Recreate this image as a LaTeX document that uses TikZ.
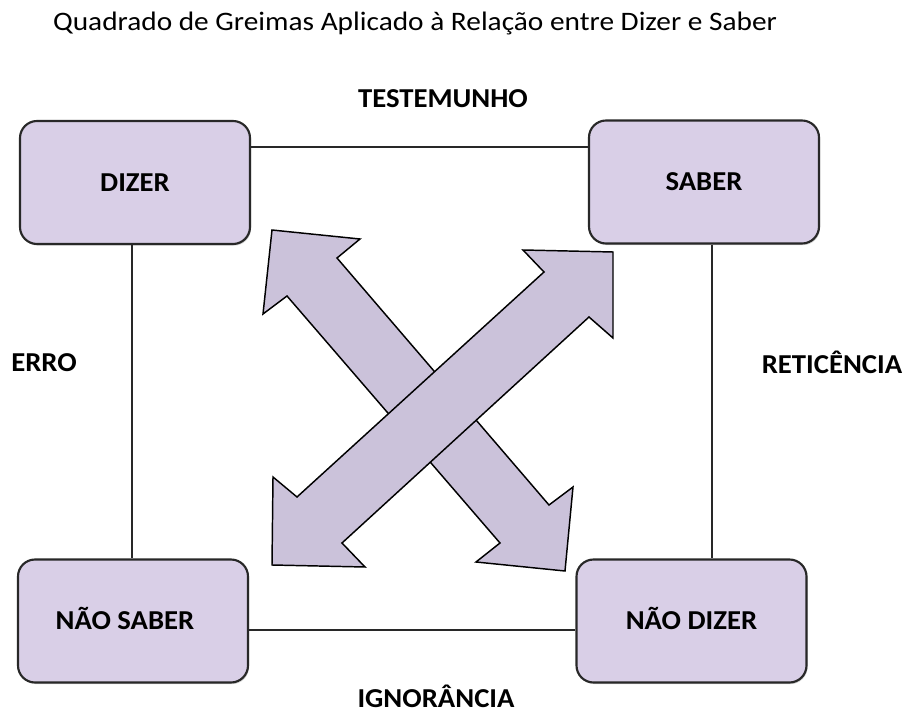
\documentclass[tikz,border=0pt]{standalone}
\usepackage{fontspec}
\setmainfont{Carlito}
\newfontfamily\titlefont[FakeStretch=1.1]{Carlito}
\newfontfamily\labelfont[FakeStretch=1.05]{Carlito}
\usetikzlibrary{shadows}
\definecolor{boxfill}{RGB}{217,207,231}
\definecolor{arrowfill}{RGB}{203,194,218}
\definecolor{boxline}{RGB}{40,40,40}
\tikzset{
  greimasbox/.style={draw=boxline, line width=1.6pt, fill=boxfill, rounded corners=12.75pt,
    minimum width=172.5pt, minimum height=92.25pt, inner sep=0pt,
    font=\labelfont\bfseries\fontsize{20.5}{24}\selectfont, text height=12.9pt, text depth=0pt,
    drop shadow={shadow xshift=0.8pt, shadow yshift=-1.2pt, opacity=0.35}},
  rellabel/.style={font=\labelfont\bfseries\fontsize{20.5}{24}\selectfont, inner sep=0pt, text height=12.9pt, text depth=0pt},
  titlelabel/.style={font=\titlefont\fontsize{20}{24}\selectfont, inner sep=0pt, text height=12.6pt, text depth=0pt},
  conn/.style={draw=boxline, line width=1.2pt},
  bigarrow/.style={draw=black, line width=1.1pt, fill=arrowfill, line join=miter}
}
\begin{document}
\begin{tikzpicture}[x=0.75pt, y=-0.75pt]
\useasboundingbox (0,0) rectangle (904,713);
% title
\node[titlelabel] (title) at (415,22.5) {Quadrado de Greimas Aplicado à Relação entre Dizer e Saber};
% double arrows
\draw[bigarrow] (272,230) -- (360,239) -- (337,258) -- (549,505) -- (573,487) -- (565,571)
  -- (476,562) -- (500,543) -- (287,296) -- (263,314) -- cycle;
\draw[bigarrow] (613,252) -- (613,338) -- (589,317) -- (342,543) -- (365,567) -- (272,565)
  -- (273,477) -- (297,497) -- (544,272) -- (523,250) -- cycle;
% boxes
\node[greimasbox] (dizer) at (135,182.5) {DIZER};
\node[greimasbox] (saber) at (704,182) {SABER};
\node[greimasbox] (naosaber) at (133,621) {NÃO SABER\hspace*{12pt}};
\node[greimasbox] (naodizer) at (691.5,621) {NÃO DIZER};
% connector positions
\coordinate (ytop) at (0,147);
\coordinate (ybot) at (0,630);
\coordinate (xleft) at (132,0);
\coordinate (xright) at (712,0);
\draw[conn] (dizer.east |- ytop) -- (saber.west |- ytop);
\draw[conn] (naosaber.east |- ybot) -- (naodizer.west |- ybot);
\draw[conn] (xleft |- dizer.south) -- (xleft |- naosaber.north);
\draw[conn] (xright |- saber.south) -- (xright |- naodizer.north);
% relation labels
\node[rellabel] (testemunho) at (443,98.7) {TESTEMUNHO};
\node[rellabel] (erro) at (44,363) {ERRO};
\node[rellabel] (reticencia) at (832,364.5) {RETICÊNCIA};
\node[rellabel] (ignorancia) at (436,699) {IGNORÂNCIA};
\end{tikzpicture}
\end{document}
